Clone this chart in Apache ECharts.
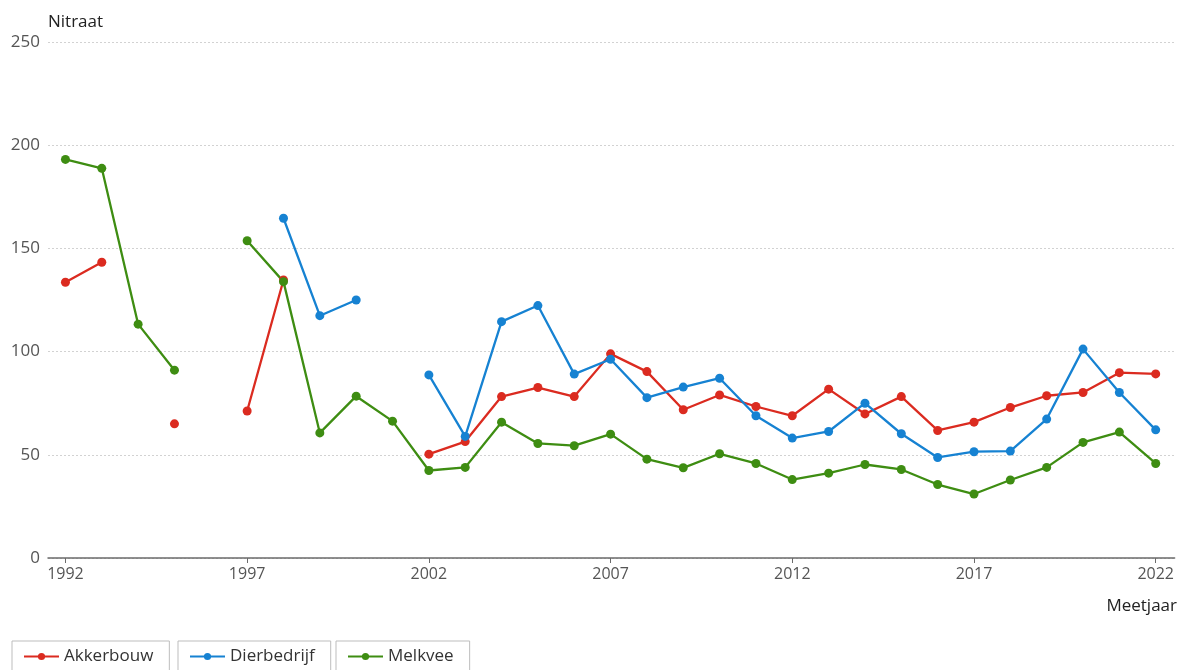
<!DOCTYPE html>
<html>
<head>
<meta charset="utf-8">
<script src="https://cdn.jsdelivr.net/npm/echarts@6/dist/echarts.min.js"></script>
<style>html,body{margin:0;padding:0;background:#fff}#c{width:1177px;height:670px}</style>
</head>
<body>
<div id="c"></div>
<script>
const years = [1992,1993,1994,1995,1996,1997,1998,1999,2000,2001,2002,2003,2004,2005,2006,2007,2008,2009,2010,2011,2012,2013,2014,2015,2016,2017,2018,2019,2020,2021,2022];
const akkerbouw = [133.6,143.3,null,65.0,null,71.2,134.7,null,null,null,50.3,56.4,78.2,82.6,78.2,98.9,90.3,71.8,79.0,73.4,68.9,81.8,69.8,78.2,61.8,65.8,72.9,78.6,80.2,89.8,89.2];
const dierbedrijf = [null,null,null,null,null,null,164.6,117.4,125.0,null,88.7,58.9,114.5,122.3,89.1,96.3,77.7,82.8,87.1,68.9,58.1,61.3,75.0,60.2,48.7,51.5,51.8,67.3,101.2,80.2,62.1];
const melkvee = [193.1,188.8,113.3,91.0,null,153.7,133.9,60.6,78.4,66.3,42.4,43.9,65.8,55.5,54.4,60.0,47.9,43.7,50.5,45.8,38.0,41.1,45.3,42.9,35.6,31.0,37.8,43.9,56.0,61.0,45.8];
const xTicks = [1992,1997,2002,2007,2012,2017,2022];
const yTicks = [0,50,100,150,200,250];

const font = '"Open Sans", "Noto Sans", sans-serif';
const names = ['Akkerbouw','Dierbedrijf','Melkvee'];
const colors = ['#db2b20','#1682d2','#3e8d12'];
const sets = [akkerbouw, dierbedrijf, melkvee];

const chart = echarts.init(document.getElementById('c'));
const legendLefts = [12, 178, 336];
chart.setOption({
  animation: false,
  grid: {left: 48, right: 0, top: 42, bottom: 112, containLabel: false},
  xAxis: {
    type: 'value', min: 1991.52, max: 2022.52,
    axisLine: {show: true, lineStyle: {color: '#6b6b6b', width: 1.5}},
    axisTick: {show: true, length: 5, lineStyle: {color: '#6b6b6b'}, customValues: xTicks},
    axisLabel: {color: '#555', fontSize: 16, fontFamily: font, margin: 8, customValues: xTicks, formatter: v => String(v)},
    splitLine: {show: false}
  },
  yAxis: {
    type: 'value', min: 0, max: 250, interval: 50,
    name: 'Nitraat', nameLocation: 'end', nameGap: 11,
    nameTextStyle: {color: '#222', fontSize: 17, fontFamily: font, align: 'left', verticalAlign: 'bottom'},
    axisLine: {show: false}, axisTick: {show: false},
    axisLabel: {color: '#555', fontSize: 17, fontFamily: font, margin: 8},
    splitLine: {show: true, lineStyle: {color: '#d2d2d2', type: [2, 2], width: 1}}
  },
  legend: names.map((n, i) => ({
    data: [n], left: legendLefts[i], top: 641,
    orient: 'horizontal',
    itemWidth: 35, itemHeight: 9, itemGap: 6,
    padding: [7, 16, 10, 11],
    borderColor: '#bdbdbd', borderWidth: 1,
    textStyle: {color: '#333', fontSize: 17, fontFamily: font}
  })),
  graphic: [{
    type: 'text', right: 0, top: 598,
    style: {text: 'Meetjaar', fill: '#222', fontSize: 17, fontFamily: font}
  }],
  series: names.map((n, i) => ({
    name: n, type: 'line',
    data: years.map((y, k) => [y, sets[i][k]]),
    connectNulls: false,
    showSymbol: true, symbol: 'circle', symbolSize: 9,
    itemStyle: {color: colors[i]},
    lineStyle: {color: colors[i], width: 2.3},
    emphasis: {disabled: true}
  }))
});
</script>
</body>
</html>
